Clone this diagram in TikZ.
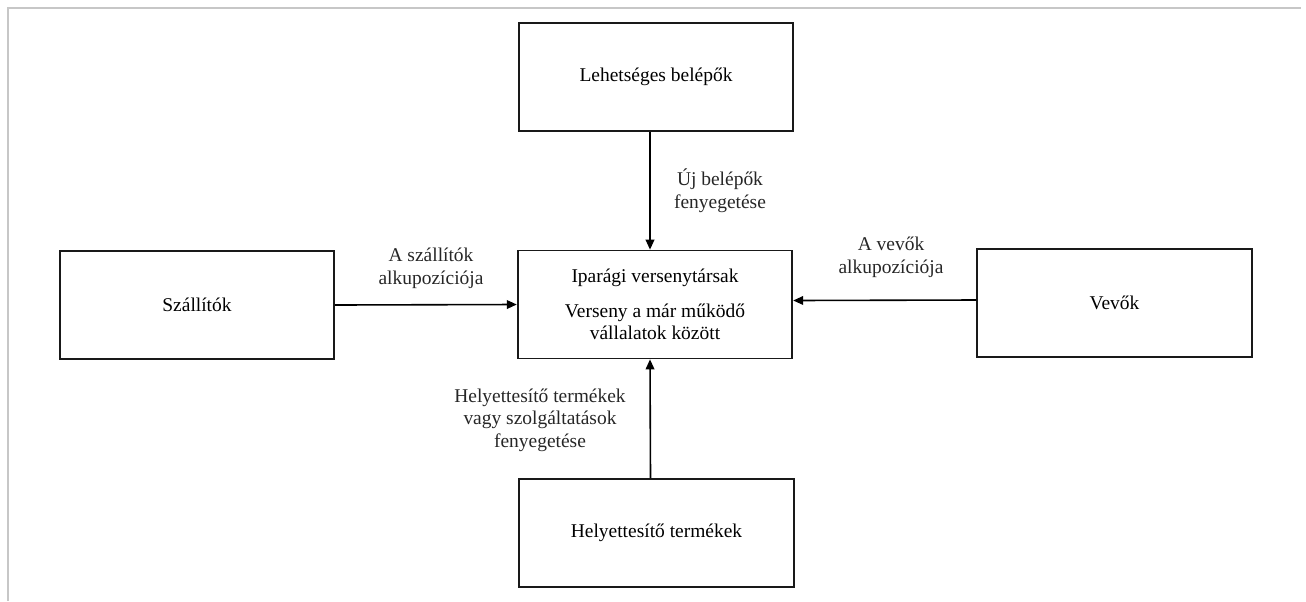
\documentclass[tikz,border=0pt]{standalone}
\usepackage{fontspec}
\setmainfont{LiberationSerif}[Extension=.ttf, UprightFont=*-Regular, BoldFont=*-Bold]
\usepackage{tikz}
\usetikzlibrary{arrows.meta}

\tikzset{
  force/.style={draw=black!90, line width=1.3pt, minimum width=206pt,
    minimum height=81pt, inner sep=0pt, align=center},
  flow/.style={line width=1.2pt, -{Triangle[length=7.5pt,width=6.5pt]}},
  flowlabel/.style={align=center, inner sep=0pt, text=black!85}
}

\begin{document}
\begin{tikzpicture}[x=0.75pt,y=-0.75pt,font=\rmfamily\fontsize{14.6}{17}\selectfont]
\useasboundingbox (0,0) rectangle (1306,601);
% faint page frame
\draw[black!22, line width=0.9pt] (8,601) -- (8,8) -- (1301,8);
% the five forces
\node[force] (belepok)   at (656,77)    {Lehetséges belépők};
\node[force] (ipar)      at (655,304.5) {Iparági versenytársak\\[9pt]Verseny a már működő\\vállalatok között};
\node[force] (szallitok) at (197,305)   {Szállítók};
\node[force] (vevok)     at (1114.5,303) {Vevők};
\node[force] (helyett)   at (656.5,533) {Helyettesítő termékek};
% pressures on the industry
\draw[flow] ([xshift=-4.5pt]belepok.south) -- ([xshift=-3.75pt]ipar.north);
\draw[flow] ([xshift=-4.5pt]helyett.north) -- ([xshift=-3.75pt]ipar.south);
\draw[flow] (szallitok.east) -- (ipar.west);
\draw[flow] ([yshift=2.25pt]vevok.west) -- ([yshift=3pt]ipar.east);
\node[flowlabel] (lbl-uj)   at (720,191) {Új belépők\\fenyegetése};
\node[flowlabel] (lbl-szal) at (431,268) {A szállítók\\alkupozíciója};
\node[flowlabel] (lbl-vevo) at (891,257) {A vevők\\alkupozíciója};
\node[flowlabel] (lbl-hely) at (540,420) {Helyettesítő termékek\\vagy szolgáltatások\\fenyegetése};
\end{tikzpicture}
\end{document}
